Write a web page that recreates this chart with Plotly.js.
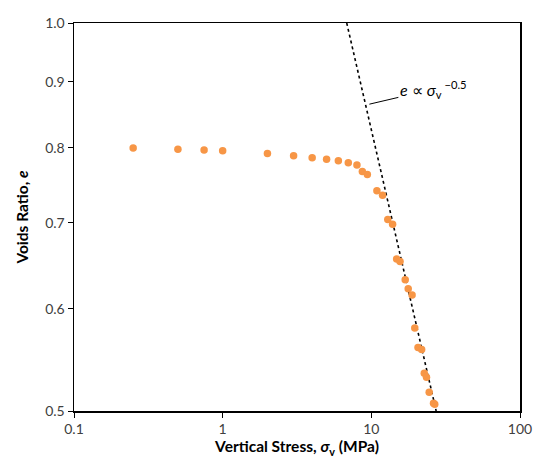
<!DOCTYPE html>
<html>
<head>
<meta charset="utf-8">
<script src="https://cdn.plot.ly/plotly-3.0.1.min.js"></script>
<style>html,body{margin:0;padding:0;background:#fff;}#chart{width:549px;height:466px;}</style>
</head>
<body>
<div id="chart"></div>
<script>
// Measured data: vertical stress (MPa) vs voids ratio
var stress = [0.25, 0.5, 0.75, 1.0, 2.0, 3.0, 4.0, 5.0, 6.0, 7.0, 8.0, 8.7, 9.4,
              10.9, 11.9, 12.9, 13.9, 14.8, 15.6, 16.9, 17.7, 18.8, 19.6, 20.6, 21.8,
              22.7, 23.5, 24.5, 26.2, 26.7];
var voids = [0.800, 0.798, 0.797, 0.796, 0.792, 0.789, 0.786, 0.784, 0.782, 0.779, 0.776, 0.767, 0.763,
             0.741, 0.735, 0.704, 0.698, 0.656, 0.653, 0.632, 0.622, 0.615, 0.580, 0.560, 0.558,
             0.535, 0.531, 0.517, 0.507, 0.506];
// Power-law trend line e ∝ σv^-0.5 (end points)
var fitStress = [6.83, 27.3];
var fitVoids = [1.0, 0.5];
var xTicks = [0.1, 1, 10, 100];
var xTickText = ['0.1', '1', '10', '100'];
var yTicks = [0.5, 0.6, 0.7, 0.8, 0.9, 1.0];
var yTickText = ['0.5', '0.6', '0.7', '0.8', '0.9', '1.0'];

var FONT = 'Lato, "Open Sans", sans-serif';

var traces = [
  {x: fitStress, y: fitVoids, type: 'scatter', mode: 'lines',
   line: {color: '#000', width: 1.6, dash: 'dot'}, hoverinfo: 'skip', showlegend: false},
  {x: stress, y: voids, type: 'scatter', mode: 'markers',
   marker: {color: '#F79646', size: 7.5, line: {width: 0}}, showlegend: false}
];

var axisCommon = {
  showline: true, linecolor: '#000', linewidth: 1.5, mirror: true,
  ticks: 'outside', ticklen: 5, tickwidth: 1, tickcolor: '#000',
  showgrid: false, zeroline: false,
  tickfont: {family: FONT, size: 14, color: '#404040'}
};

var layout = {
  width: 549, height: 466,
  margin: {l: 74, r: 29, t: 23, b: 55, pad: 0},
  paper_bgcolor: '#fff', plot_bgcolor: '#fff',
  font: {family: FONT},
  xaxis: Object.assign({}, axisCommon, {
    type: 'log', range: [-1, 2],
    tickvals: xTicks, ticktext: xTickText,
    title: {text: '<b>Vertical Stress, <i>σ</i><sub>v</sub> (MPa)</b>', font: {family: FONT, size: 15.5, color: '#000'}, standoff: 4}
  }),
  yaxis: Object.assign({}, axisCommon, {
    type: 'log', range: [Math.log10(0.5), 0],
    tickvals: yTicks, ticktext: yTickText,
    title: {text: '<b>Voids Ratio, <i>e</i></b>', font: {family: FONT, size: 15.5, color: '#000'}, standoff: 12}
  }),
  annotations: [{
    x: Math.log10(9.7), y: Math.log10(0.865), xref: 'x', yref: 'y',
    text: '<i>e</i> ∝ <i>σ</i><sub>v</sub><sup> −0.5</sup>',
    font: {family: FONT, size: 16, color: '#000'},
    showarrow: true, arrowhead: 0, arrowwidth: 1, arrowcolor: '#000',
    ax: 64, ay: -15
  }]
};

Plotly.newPlot('chart', traces, layout, {displayModeBar: false, staticPlot: true});
</script>
</body>
</html>
